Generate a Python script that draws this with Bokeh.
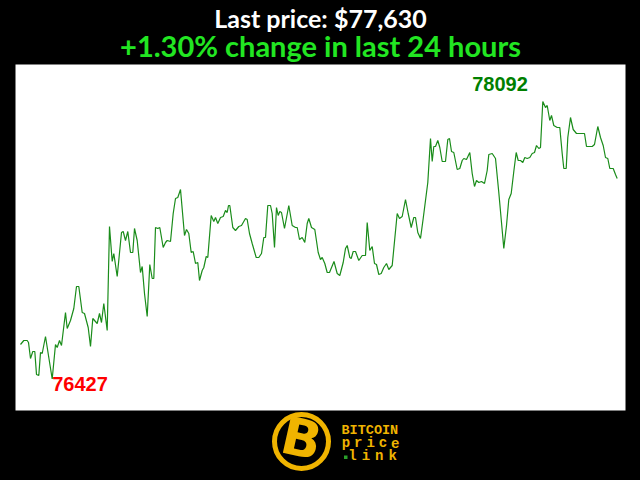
from bokeh.plotting import figure
from bokeh.models import Range1d, Label, BoxAnnotation, ColumnDataSource, GlobalInlineStyleSheet
from bokeh.embed import file_html
from bokeh.resources import INLINE

# ---------------- data (24 h of BTC price, time in sample units) ----------------
t_a = [0, 3.3, 6.7, 8, 10, 12.3, 14.3, 16, 18.3, 20, 21.7, 25, 28.3, 31.7, 35, 36.7, 39, 41, 45, 46.7,
       50, 53.3, 56, 58.3, 61.7, 64, 67.7, 70, 72.3, 76.7, 79, 81, 83.3, 86.7, 89, 91.7, 93.3, 96.7, 101, 102.7]
p_a = [76634, 76658, 76658, 76646, 76550, 76592, 76592, 76454, 76448, 76586, 76580, 76682, 76556, 76427, 76634, 76616, 76658, 76628, 76826, 76730,
       76778, 76850, 76982, 76982, 76826, 76820, 76736, 76622, 76790, 76760, 76820, 76766, 76880, 76718, 77342, 77132, 77180, 77042, 77306, 77312]

t_b = [105, 107.3, 110, 112.3, 114, 116.7, 120, 121.7, 124, 126.7, 129.3, 131.7, 133.3, 135, 137.3, 139.3, 142.7, 145, 146.7, 150,
       152.7, 155, 157.3, 160, 164, 166, 168.3, 170.7, 172.7, 175, 177.3, 179, 181.7, 183.3, 185.7, 187.3, 190.7, 193.3, 195, 197.3,
       200, 202.7, 205, 206.7]
p_b = [77258, 77312, 77186, 77186, 77330, 77258, 77066, 77102, 76940, 76802, 77114, 77030, 77030, 77336, 77330, 77336, 77216, 77246, 77258, 77252,
       77420, 77510, 77516, 77564, 77288, 77324, 77300, 77186, 77192, 77120, 77126, 77018, 77078, 77096, 77162, 77156, 77408, 77372, 77396, 77360,
       77396, 77402, 77438, 77426]

t_c = [208, 209.3, 212.3, 215, 218.3, 221, 225, 226.7, 229, 231.7, 235.7, 238.3, 241, 243.3, 245, 247.3, 250, 251.7, 254, 256,
       257.7, 259.3, 261, 264, 268.3, 271.7, 275, 276.7, 279, 281.7, 284.3, 286.7, 288.3, 291, 294.3, 297.7, 300, 301.7, 304.3, 306.7, 309]
p_c = [77468, 77468, 77336, 77318, 77342, 77348, 77390, 77384, 77300, 77240, 77156, 77156, 77180, 77276, 77276, 77468, 77468, 77420, 77216, 77456,
       77408, 77432, 77426, 77330, 77468, 77348, 77336, 77336, 77264, 77276, 77246, 77360, 77390, 77336, 77324, 77186, 77144, 77156, 77120, 77066, 77066]

t_d = [313.5, 316.7, 319.3, 322.7, 325, 326.7, 329.3, 330.7, 332.7, 335, 338.3, 341.7, 345, 346.7, 349.3, 351.7, 354, 356, 358.3, 360.7,
       363.3, 366, 368.3, 371.7, 376.7, 379, 381.7, 385, 387.7, 390.7, 393.3, 395, 397.3, 400, 402.7, 407.3]
p_d = [77132, 77060, 77048, 77126, 77210, 77228, 77156, 77150, 77192, 77192, 77138, 77168, 77168, 77366, 77198, 77222, 77120, 77114, 77054, 77060,
       77096, 77120, 77084, 77108, 77420, 77390, 77402, 77504, 77420, 77336, 77396, 77396, 77306, 77270, 77390, 77606]

t_e = [410, 411.7, 413.3, 415, 417.3, 419.3, 421.7, 425, 427.3, 429, 431, 433.3, 436.7, 439.3, 441.7, 443.3, 446, 449.3, 451.7, 454,
       456, 458.3, 461, 464, 466.7, 468.3, 471.7, 475, 478.3, 481, 483.3, 486, 488.3, 490.7, 493.3, 495.7, 497.7, 500, 502.3, 504.3,
       506.7, 509.3]
p_e = [77870, 77732, 77822, 77822, 77858, 77816, 77732, 77732, 77864, 77870, 77792, 77786, 77684, 77690, 77738, 77750, 77744, 77786, 77660, 77582,
       77618, 77606, 77612, 77600, 77678, 77774, 77780, 77750, 77546, 77366, 77210, 77348, 77504, 77540, 77672, 77786, 77738, 77738, 77726, 77756,
       77750, 77756]

t_f = [511.7, 514, 516, 518.3, 520, 522.3, 525, 526.7, 529.3, 531, 533.3, 536.7, 539.3, 541.7, 543.3, 545.7, 547.3, 550, 552.7, 556,
       558.3, 564, 566, 571.7, 574, 577.3, 580, 582.7, 585, 587.3, 589.3, 592.7, 595, 596.7]
p_f = [77780, 77786, 77828, 77810, 77816, 78092, 78056, 78068, 77978, 78008, 77948, 77936, 77936, 77780, 77690, 77690, 77876, 77996, 77924, 77900,
       77900, 77900, 77822, 77822, 77834, 77942, 77876, 77828, 77756, 77750, 77690, 77690, 77654, 77630]

t = t_a + t_b + t_c + t_d + t_e + t_f
price = p_a + p_b + p_c + p_d + p_e + p_f
assert len(t) == len(price)

last_price = price[-1]
change_pct = 1.30
title_text = f"Last price: ${last_price:,}"
subtitle_text = f"+{change_pct:.2f}% change in last 24 hours"

# ---------------- figure: the frame covers the whole canvas ----------------
W, H = 640, 480
X0 = -20                # t = 0 sits 20 px from the left edge
YPX = 6.0               # dollars per pixel
Y1 = 78698              # price at the top edge
X1 = X0 + W
Y0 = Y1 - H * YPX


def px_x(px):
    return X0 + px


def px_y(py):
    return Y1 - py * YPX


p = figure(width=W, height=H, output_backend="svg", toolbar_location=None,
           x_range=Range1d(X0, X1), y_range=Range1d(Y0, Y1),
           x_axis_type=None, y_axis_type=None, min_border=0,
           background_fill_color="black", border_fill_color="black", outline_line_color=None)
p.grid.visible = False
p.stylesheets = [GlobalInlineStyleSheet(css="html, body { background: #000000; }")]

# white chart panel
p.quad(left=px_x(15), right=px_x(625), top=px_y(64), bottom=px_y(410),
       fill_color="white", line_color=None)

src = ColumnDataSource(dict(t=t, price=price))
p.line("t", "price", source=src, line_color="#1a8c1a", line_width=1.2)

# max / min labels
i_max = price.index(max(price))
i_min = price.index(min(price))
p.add_layout(Label(x=t[i_max], y=price[i_max], text=str(price[i_max]), x_offset=-15, y_offset=18,
                   text_align="right", text_baseline="alphabetic", text_font="Liberation Sans",
                   text_font_style="bold", text_font_size="20px", text_color="#008000"))
p.add_layout(Label(x=t[i_min], y=price[i_min], text=str(price[i_min]), x_offset=0, y_offset=-5,
                   text_align="left", text_baseline="alphabetic", text_font="Liberation Sans",
                   text_font_style="bold", text_font_size="20px", text_color="#ff0000"))

# titles
p.add_layout(Label(x=px_x(320), y=px_y(17), text=title_text, text_align="center",
                   text_baseline="alphabetic", text_font="Lato", text_font_style="bold",
                   text_font_size="25px", text_color="white"))
p.add_layout(Label(x=px_x(320), y=px_y(45), text=subtitle_text, text_align="center",
                   text_baseline="alphabetic", text_font="Lato", text_font_style="bold",
                   text_font_size="29px", text_color="#22e622"))

# logo
GOLD = "#f0b400"
p.add_layout(BoxAnnotation(left=px_x(274), right=px_x(328), top=px_y(414), bottom=px_y(468),
                           border_radius=27, fill_color="black", fill_alpha=1.0,
                           line_color=GOLD, line_width=5, line_alpha=1.0))
p.add_layout(Label(x=px_x(301), y=px_y(438), text="B", text_align="center", text_baseline="middle",
                   text_font="DejaVu Sans", text_font_style="bold", text_font_size="52px",
                   text_color=GOLD, angle=-0.22))
p.add_layout(Label(x=px_x(341), y=px_y(429.5), text="BITCOIN", text_align="left",
                   text_baseline="alphabetic", text_font="Liberation Mono", text_font_style="bold",
                   text_font_size="13.5px", text_color=GOLD))
for i, ch in enumerate("price"):
    p.add_layout(Label(x=px_x(345.5 + i * 12.3), y=px_y(442), text=ch, text_align="center",
                       text_baseline="alphabetic", text_font="Liberation Mono", text_font_style="bold",
                       text_font_size="14px", text_color=GOLD))
for i, ch in enumerate("link"):
    p.add_layout(Label(x=px_x(352 + i * 13.4), y=px_y(455.5), text=ch, text_align="center",
                       text_baseline="alphabetic", text_font="Liberation Mono", text_font_style="bold",
                       text_font_size="14px", text_color=GOLD))
p.add_layout(BoxAnnotation(left=px_x(343.5), right=px_x(347), top=px_y(455), bottom=px_y(458.5),
                           fill_color="#2aa02a", fill_alpha=1.0, line_color=None))

open("out.html", "w").write(file_html(p, INLINE))
